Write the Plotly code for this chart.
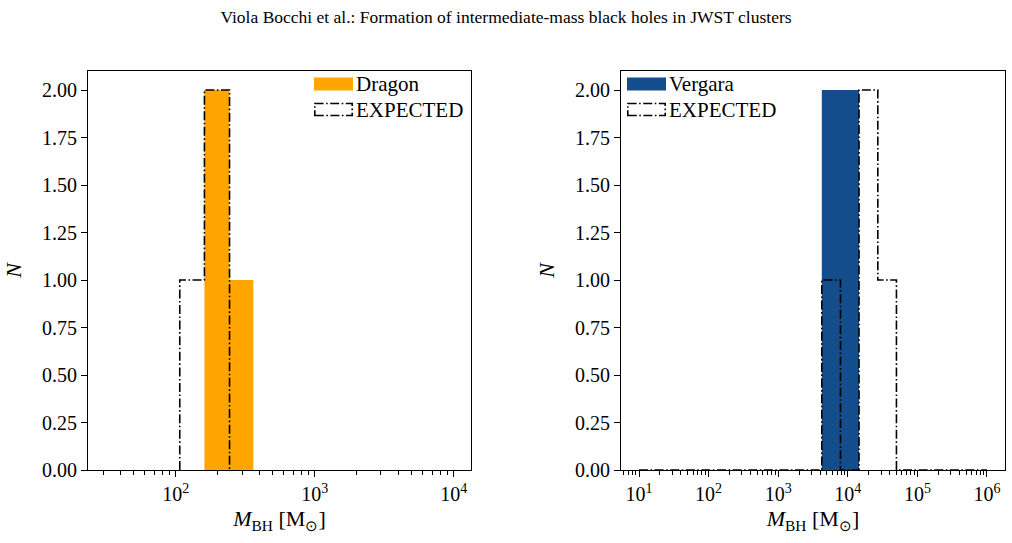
import numpy as np
import plotly.graph_objects as go

# ---------------- data ----------------
dragon_edges = [161, 244, 362]
dragon_counts = [2, 1]
dragon_exp_edges = [107, 161, 244]
dragon_exp_counts = [1, 2]

vergara_edges = [4230, 14500]
vergara_counts = [2]
vergara_exp_edges = [10, 4230, 7850, 14500, 27000, 50000, 1000000]
vergara_exp_counts = [0, 1, 0, 2, 1, 0]

y_ticks = [0, 0.25, 0.5, 0.75, 1.0, 1.25, 1.5, 1.75, 2.0]
y_ticktext = ["0.00", "0.25", "0.50", "0.75", "1.00", "1.25", "1.50", "1.75", "2.00"]
left_major = [100, 1000, 10000]
right_major = [10, 100, 1000, 10000, 100000, 1000000]

ORANGE = "#FFA500"
BLUE = "#134d8b"
FONT = "Liberation Serif"
DASH = "9px,2.5px,1.6px,2.5px"


def filled_outline(edges, counts):
    xs, ys = [edges[0]], [0]
    for i, c in enumerate(counts):
        xs += [edges[i], edges[i + 1]]
        ys += [c, c]
    xs.append(edges[-1])
    ys.append(0)
    return xs, ys


def minor_vals(lo, hi):
    vals = []
    for e in range(lo, hi + 1):
        for m in range(2, 10):
            vals.append(m * 10 ** e)
    return vals


fig = go.Figure()

# Left panel
x, y = filled_outline(dragon_edges, dragon_counts)
fig.add_trace(go.Scatter(x=x, y=y, fill="toself", fillcolor=ORANGE, mode="lines",
                         line=dict(width=0, color=ORANGE), xaxis="x", yaxis="y",
                         showlegend=False, hoverinfo="skip"))
x, y = filled_outline(dragon_exp_edges, dragon_exp_counts)
fig.add_trace(go.Scatter(x=x, y=y, mode="lines", line=dict(color="black", width=1.6, dash=DASH),
                         xaxis="x", yaxis="y", showlegend=False, hoverinfo="skip"))

# Right panel
x, y = filled_outline(vergara_edges, vergara_counts)
fig.add_trace(go.Scatter(x=x, y=y, fill="toself", fillcolor=BLUE, mode="lines",
                         line=dict(width=0, color=BLUE), xaxis="x2", yaxis="y2",
                         showlegend=False, hoverinfo="skip"))
x, y = filled_outline(vergara_exp_edges, vergara_exp_counts)
fig.add_trace(go.Scatter(x=x, y=y, mode="lines", line=dict(color="black", width=1.6, dash=DASH),
                         xaxis="x2", yaxis="y2", showlegend=False, hoverinfo="skip"))

W, H = 1012, 543
def px(v): return v / W
def py(v): return 1 - v / H

tickfont = dict(family=FONT, size=20, color="black")
common_x = dict(type="log", showgrid=False, zeroline=False, showline=True, linecolor="black",
                linewidth=1.2, mirror=True, ticks="outside", ticklen=6, tickwidth=1,
                tickcolor="black", tickfont=tickfont, tickmode="array", automargin=False,
                title=dict(text="<i>M</i><sub>BH</sub> [M<sub>⊙</sub>]",
                           font=dict(family=FONT, size=22, color="black"), standoff=6))
common_y = dict(range=[0, 2.1], showgrid=False, zeroline=False, showline=True, linecolor="black",
                linewidth=1.2, mirror=True, ticks="outside", ticklen=6, tickwidth=1,
                tickcolor="black", tickfont=tickfont, tickmode="array", automargin=False,
                tickvals=y_ticks, ticktext=y_ticktext,
                title=dict(text="<i>N</i>", font=dict(family=FONT, size=22, color="black"),
                           standoff=14))

fig.update_layout(
    width=W, height=H, margin=dict(l=0, r=0, t=0, b=0, autoexpand=False),
    paper_bgcolor="white", plot_bgcolor="white", showlegend=False,
    xaxis=dict(common_x, domain=[px(88), px(471)], range=[1.369, 4.125],
               tickvals=left_major,
               ticktext=["10<sup>%d</sup>" % int(np.log10(v)) for v in left_major],
               minor=dict(tickvals=minor_vals(1, 3), ticks="outside", ticklen=3.5,
                          tickcolor="black", tickwidth=1, showgrid=False),
               anchor="y"),
    yaxis=dict(common_y, domain=[py(470), py(71)], anchor="x"),
    xaxis2=dict(common_x, domain=[px(621), px(1005)], range=[0.741, 6.259],
                tickvals=right_major,
                ticktext=["10<sup>%d</sup>" % int(np.log10(v)) for v in right_major],
                minor=dict(tickvals=minor_vals(0, 6), ticks="outside", ticklen=3.5,
                           tickcolor="black", tickwidth=1, showgrid=False),
                anchor="y2"),
    yaxis2=dict(common_y, domain=[py(470), py(71)], anchor="x2"),
    title=dict(text="Viola Bocchi et al.: Formation of intermediate-mass black holes in JWST clusters",
               font=dict(family=FONT, size=17.5, color="black"), x=0.5, xanchor="center",
               y=py(17), yanchor="middle"),
)

# Manual legends
legend_font = dict(family=FONT, size=21, color="black")
shapes = []
annos = []
for (x0, x1, tx, label, color) in [(314, 353, 354, "Dragon", ORANGE), (627, 666, 667, "Vergara", BLUE)]:
    shapes.append(dict(type="rect", xref="paper", yref="paper", x0=px(x0), x1=px(x1),
                       y0=py(90.5), y1=py(77.5), fillcolor=color, line=dict(width=0)))
    shapes.append(dict(type="rect", xref="paper", yref="paper", x0=px(x0 + 0.8), x1=px(x1 - 0.8),
                       y0=py(115.5), y1=py(103.5), fillcolor="rgba(0,0,0,0)",
                       line=dict(color="black", width=1.6, dash=DASH)))
    annos.append(dict(text=label, xref="paper", yref="paper", x=px(tx), y=py(84),
                      xanchor="left", yanchor="middle", showarrow=False, font=legend_font))
    annos.append(dict(text="EXPECTED", xref="paper", yref="paper", x=px(tx), y=py(110),
                      xanchor="left", yanchor="middle", showarrow=False, font=legend_font))

fig.update_layout(shapes=shapes, annotations=annos)
fig.write_html("out.html")
